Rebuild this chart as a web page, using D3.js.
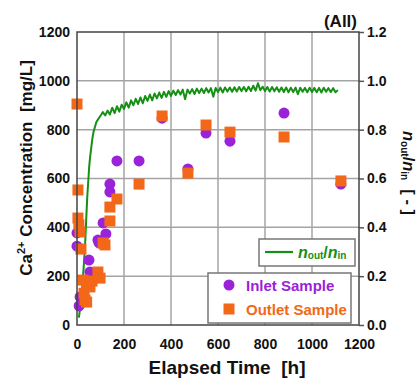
<!DOCTYPE html>
<html>
<head>
<meta charset="utf-8">
<script src="https://cdn.jsdelivr.net/npm/d3@7"></script>
<style>
  body { margin: 0; background: #fff; }
  svg text { font-family: "Liberation Sans", Arial, sans-serif; font-weight: bold; white-space: pre; }
</style>
</head>
<body>
<svg id="chart" width="420" height="385"></svg>
<script>
const X_TICKS = [0, 200, 400, 600, 800, 1000, 1200];
const Y_TICKS = [0, 200, 400, 600, 800, 1000, 1200];
const R_TICKS = [0, 0.2, 0.4, 0.6, 0.8, 1.0, 1.2];

// inlet sample: elapsed time [h], Ca2+ [mg/L]
const inletTime = [0, 0, 9, 13, 51, 55, 89, 94, 111, 123, 140, 140, 170, 264, 362, 472, 549, 651, 881, 1123];
const inletConc = [377, 323, 78, 115, 266, 217, 348, 336, 418, 373, 577, 545, 672, 672, 847, 639, 786, 753, 868, 577];

// outlet sample
const outletTime = [0, 4, 4, 8, 13, 17, 26, 30, 34, 41, 41, 55, 64, 89, 98, 111, 119, 140, 140, 170, 264, 362, 472, 549, 651, 881, 1123];
const outletConc = [905, 553, 438, 410, 381, 311, 184, 130, 102, 94, 164, 156, 180, 217, 192, 336, 328, 426, 483, 516, 577, 856, 622, 819, 790, 770, 590];

// n_out / n_in record
const ratioTime = [8, 12, 16, 20, 24, 28, 32, 36, 40, 44, 48, 52, 56, 60, 65, 70, 76, 82, 88, 95, 102,
  110, 120, 130, 140, 150, 160, 170, 180, 190, 200, 210, 220, 230, 240, 250, 260, 270, 280, 290, 300,
  310, 320, 330, 340, 350, 360, 370, 380, 390, 400, 410, 420, 430, 440, 450, 460, 470, 480, 490, 500,
  510, 520, 530, 540, 550, 560, 570, 580, 590, 600, 610, 620, 630, 640, 650, 660, 670, 680, 690, 700,
  710, 720, 730, 740, 750, 760, 770, 780, 790, 800, 810, 820, 830, 840, 850, 860, 870, 880, 890, 900,
  910, 920, 930, 940, 950, 960, 970, 980, 990, 1000, 1010, 1020, 1030, 1040, 1050, 1060, 1070, 1080, 1090, 1100, 1110];
const ratioValue = [0.03, 0.06, 0.09, 0.13, 0.18, 0.23, 0.29, 0.36, 0.45, 0.53, 0.59, 0.65, 0.69, 0.72, 0.76, 0.79, 0.81, 0.83, 0.84, 0.85, 0.86,
  0.872, 0.858, 0.878, 0.862, 0.89, 0.868, 0.896, 0.874, 0.902, 0.885, 0.912, 0.89, 0.92, 0.9, 0.926, 0.905, 0.932, 0.908, 0.938, 0.918,
  0.944, 0.92, 0.948, 0.928, 0.952, 0.93, 0.955, 0.934, 0.958, 0.938, 0.96, 0.942, 0.962, 0.944, 0.964, 0.925, 0.964, 0.948, 0.966, 0.946,
  0.968, 0.95, 0.968, 0.95, 0.97, 0.952, 0.97, 0.935, 0.971, 0.954, 0.972, 0.952, 0.973, 0.956, 0.973, 0.955, 0.974, 0.956, 0.975, 0.958,
  0.975, 0.957, 0.976, 0.958, 0.98, 0.96, 0.99, 0.962, 0.976, 0.958, 0.975, 0.956, 0.975, 0.957, 0.974, 0.955, 0.973, 0.954, 0.973, 0.953,
  0.972, 0.954, 0.972, 0.945, 0.972, 0.955, 0.971, 0.953, 0.972, 0.954, 0.971, 0.953, 0.971, 0.952, 0.972, 0.955, 0.97, 0.954, 0.97, 0.953, 0.962];

const PURPLE = "#9a22d8";
const ORANGE = "#f26818";
const GREEN = "#159015";

const mLeft = 77, mRight = 359, mTop = 32, mBottom = 325;
const svg = d3.select("#chart");

const x = d3.scaleLinear().domain([0, 1200]).range([mLeft, mRight]);
const y = d3.scaleLinear().domain([0, 1200]).range([mBottom, mTop]);
const yr = d3.scaleLinear().domain([0, 1.2]).range([mBottom, mTop]);

// grid
const grid = svg.append("g").attr("stroke", "#a4a4a4").attr("stroke-width", 1.5);
grid.selectAll(".gx").data(X_TICKS.slice(1, -1)).enter().append("line")
  .attr("x1", d => x(d)).attr("x2", d => x(d)).attr("y1", mTop).attr("y2", mBottom);
grid.selectAll(".gy").data(Y_TICKS.slice(1, -1)).enter().append("line")
  .attr("y1", d => y(d)).attr("y2", d => y(d)).attr("x1", mLeft).attr("x2", mRight);

// axes
const axB = svg.append("g").attr("transform", `translate(0,${mBottom})`)
  .call(d3.axisBottom(x).tickValues(X_TICKS).tickFormat(d3.format("d")).tickSize(0).tickPadding(14));
const axL = svg.append("g").attr("transform", `translate(${mLeft},0)`)
  .call(d3.axisLeft(y).tickValues(Y_TICKS).tickFormat(d3.format("d")).tickSize(0).tickPadding(7));
const axR = svg.append("g").attr("transform", `translate(${mRight},0)`)
  .call(d3.axisRight(yr).tickValues(R_TICKS).tickFormat(d3.format(".1f")).tickSize(5).tickPadding(3));
[axB, axL, axR].forEach(a => {
  a.select(".domain").remove();
  a.selectAll("text").attr("font-size", 14).attr("font-weight", "bold")
    .attr("font-family", "'Liberation Sans', Arial, sans-serif").attr("fill", "#111");
  a.selectAll("line").attr("stroke", "#555").attr("stroke-width", 1.5);
});

// ratio line
const line = d3.line().x(d => x(d[0])).y(d => yr(d[1]));
svg.append("path")
  .datum(ratioTime.map((t, i) => [t, ratioValue[i]]))
  .attr("d", line).attr("fill", "none").attr("stroke", GREEN)
  .attr("stroke-width", 2).attr("stroke-linejoin", "round");

// samples
svg.append("g").selectAll("circle")
  .data(inletTime.map((t, i) => [t, inletConc[i]])).enter().append("circle")
  .attr("cx", d => x(d[0])).attr("cy", d => y(d[1])).attr("r", 5.5).attr("fill", PURPLE);
svg.append("g").selectAll("rect")
  .data(outletTime.map((t, i) => [t, outletConc[i]])).enter().append("rect")
  .attr("x", d => x(d[0]) - 5.5).attr("y", d => y(d[1]) - 5.5)
  .attr("width", 11).attr("height", 11).attr("fill", ORANGE);

// frame
svg.append("rect").attr("x", mLeft).attr("y", mTop).attr("width", mRight - mLeft).attr("height", mBottom - mTop)
  .attr("fill", "none").attr("stroke", "#444").attr("stroke-width", 1.5);

// legend 1: ratio
const lg1 = svg.append("g");
lg1.append("rect").attr("x", 259).attr("y", 239).attr("width", 96).attr("height", 27)
  .attr("fill", "#fff").attr("stroke", "#777").attr("stroke-width", 1.5);
lg1.append("line").attr("x1", 265).attr("x2", 293).attr("y1", 252).attr("y2", 252)
  .attr("stroke", GREEN).attr("stroke-width", 2.2);
const lt = lg1.append("text").attr("x", 298).attr("y", 258).attr("fill", GREEN).attr("font-size", 16);
lt.append("tspan").attr("font-style", "italic").text("n");
lt.append("tspan").attr("font-size", 10).attr("dy", 1).text("out");
lt.append("tspan").attr("dy", -1).text("/");
lt.append("tspan").attr("font-style", "italic").text("n");
lt.append("tspan").attr("font-size", 10).attr("dy", 1).text("in");

// legend 2: samples
const lg2 = svg.append("g");
lg2.append("rect").attr("x", 208).attr("y", 273).attr("width", 143).attr("height", 50)
  .attr("fill", "#fff").attr("stroke", "#777").attr("stroke-width", 1.5);
lg2.append("circle").attr("cx", 229).attr("cy", 285).attr("r", 5.5).attr("fill", PURPLE);
lg2.append("rect").attr("x", 223.5).attr("y", 303.5).attr("width", 11).attr("height", 11).attr("fill", ORANGE);
lg2.append("text").attr("x", 246).attr("y", 291).attr("fill", PURPLE).attr("font-size", 15).text("Inlet Sample");
lg2.append("text").attr("x", 246).attr("y", 315).attr("fill", ORANGE).attr("font-size", 15).text("Outlet Sample");

// titles
svg.append("text").attr("x", 357).attr("y", 27).attr("text-anchor", "end")
  .attr("font-size", 17).attr("fill", "#111").text("(All)");
svg.append("text").attr("x", 227).attr("y", 374).attr("text-anchor", "middle")
  .attr("font-size", 19).attr("fill", "#111").text("Elapsed Time  [h]");

const yt = svg.append("text").attr("transform", "translate(32,168) rotate(-90)")
  .attr("text-anchor", "middle").attr("font-size", 17).attr("fill", "#111");
yt.append("tspan").text("Ca");
yt.append("tspan").attr("font-size", 11).attr("dy", -7).text("2+");
yt.append("tspan").attr("dy", 7).text(" Concentration  [mg/L]");

const rt = svg.append("text").attr("transform", "translate(403,173) rotate(90)")
  .attr("text-anchor", "middle").attr("font-size", 16.5).attr("fill", "#111");
rt.append("tspan").attr("font-style", "italic").text("n");
rt.append("tspan").attr("font-size", 10).attr("dy", 2).text("out");
rt.append("tspan").attr("dy", -2).text("/");
rt.append("tspan").attr("font-style", "italic").text("n");
rt.append("tspan").attr("font-size", 10).attr("dy", 2).text("in");
rt.append("tspan").attr("dy", -2).text("  [ - ]");
</script>
</body>
</html>
